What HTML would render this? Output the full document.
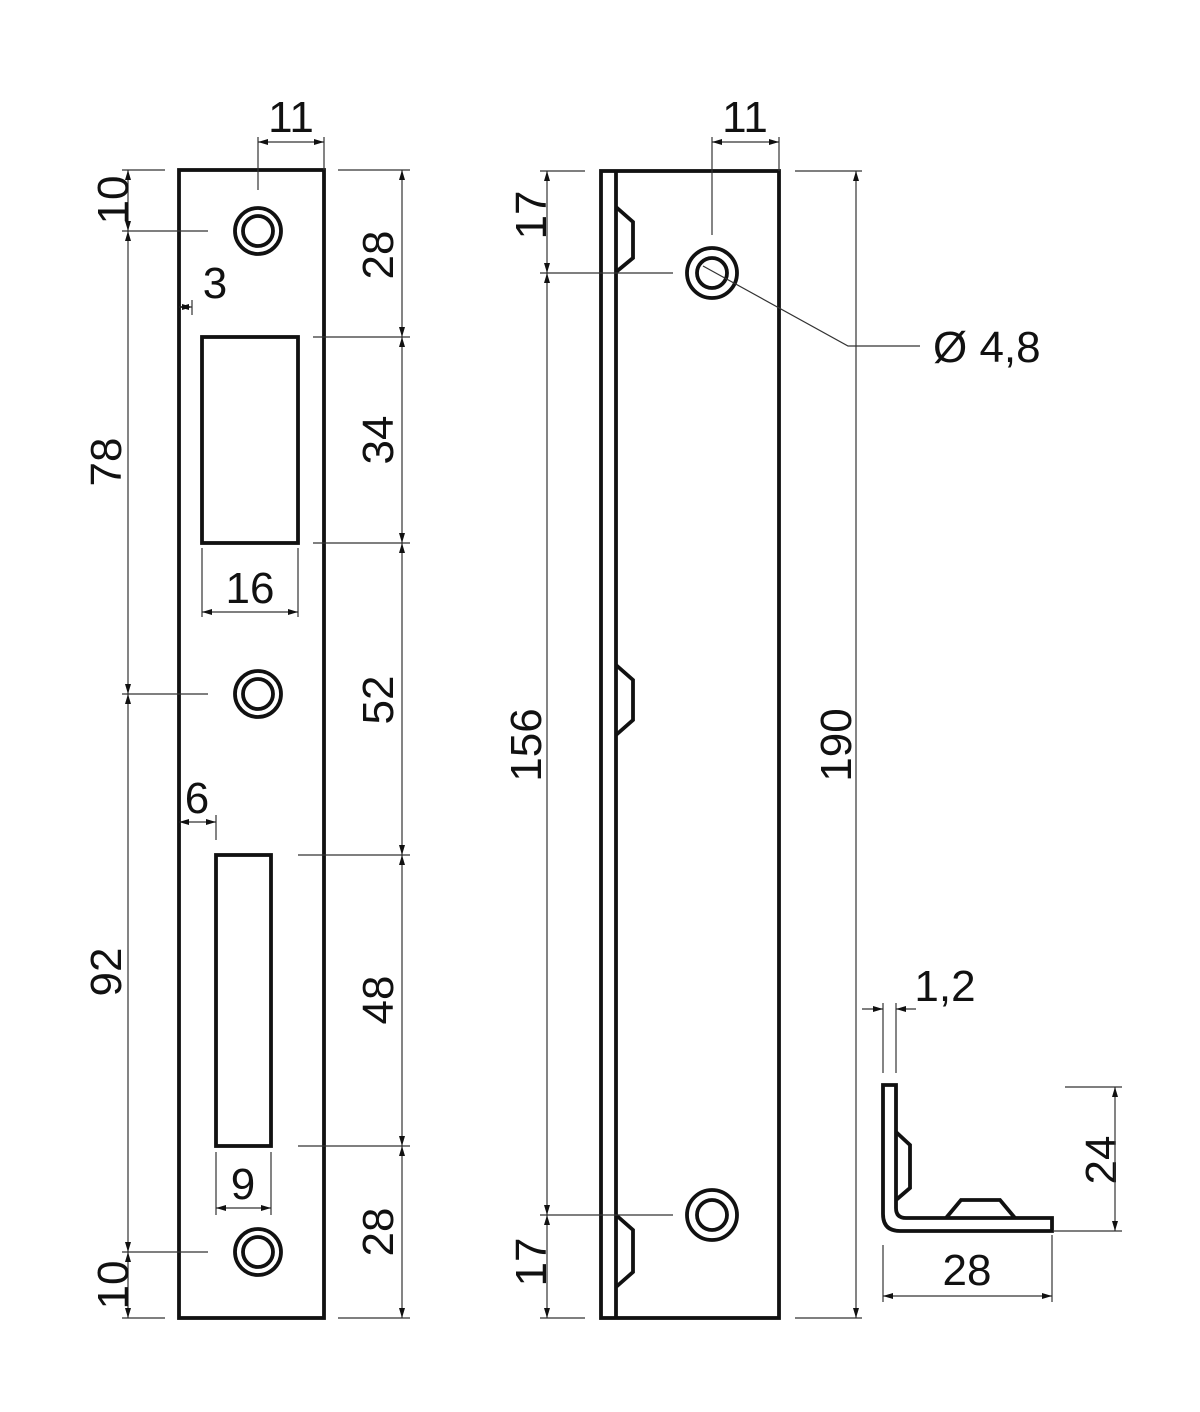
<!DOCTYPE html>
<html><head><meta charset="utf-8"><style>
html,body{margin:0;padding:0;background:#fff;}
svg{display:block}
text{font-family:"Liberation Sans",Arial,sans-serif;font-size:44px;fill:#111;}
.t{stroke:#111;stroke-width:3.8;fill:none}
.d{stroke:#333;stroke-width:1.2;fill:none}
</style></head><body>
<svg width="1200" height="1412" viewBox="0 0 1200 1412" xmlns="http://www.w3.org/2000/svg">
<defs>
<marker id="a" viewBox="0 0 10 6" refX="10" refY="3" markerWidth="10" markerHeight="6" orient="auto-start-reverse" markerUnits="userSpaceOnUse"><path d="M0,0 L10,3 L0,6 z" fill="#111"/></marker>
</defs>
<rect class="t" x="179" y="170" width="145" height="1148"/>
<rect class="t" x="202" y="337" width="96" height="206"/>
<rect class="t" x="216" y="855" width="55" height="291"/>
<g class="t">
<circle cx="258" cy="231" r="23"/><circle cx="258" cy="231" r="15"/>
<circle cx="258" cy="694" r="23"/><circle cx="258" cy="694" r="15"/>
<circle cx="258" cy="1252" r="23"/><circle cx="258" cy="1252" r="15"/>
</g>
<g class="d">
<line x1="122" y1="170" x2="165" y2="170"/>
<line x1="122" y1="231" x2="208" y2="231"/>
<line x1="122" y1="694" x2="208" y2="694"/>
<line x1="122" y1="1252" x2="208" y2="1252"/>
<line x1="122" y1="1318" x2="165" y2="1318"/>
<line x1="128" y1="170" x2="128" y2="231" marker-start="url(#a)" marker-end="url(#a)"/>
<line x1="128" y1="231" x2="128" y2="694" marker-start="url(#a)" marker-end="url(#a)"/>
<line x1="128" y1="694" x2="128" y2="1252" marker-start="url(#a)" marker-end="url(#a)"/>
<line x1="128" y1="1252" x2="128" y2="1318" marker-start="url(#a)" marker-end="url(#a)"/>
<line x1="338" y1="170" x2="410" y2="170"/>
<line x1="313" y1="337" x2="410" y2="337"/>
<line x1="313" y1="543" x2="410" y2="543"/>
<line x1="298" y1="855" x2="410" y2="855"/>
<line x1="298" y1="1146" x2="410" y2="1146"/>
<line x1="338" y1="1318" x2="410" y2="1318"/>
<line x1="402" y1="170" x2="402" y2="337" marker-start="url(#a)" marker-end="url(#a)"/>
<line x1="402" y1="337" x2="402" y2="543" marker-start="url(#a)" marker-end="url(#a)"/>
<line x1="402" y1="543" x2="402" y2="855" marker-start="url(#a)" marker-end="url(#a)"/>
<line x1="402" y1="855" x2="402" y2="1146" marker-start="url(#a)" marker-end="url(#a)"/>
<line x1="402" y1="1146" x2="402" y2="1318" marker-start="url(#a)" marker-end="url(#a)"/>
<line x1="258" y1="137" x2="258" y2="190"/>
<line x1="324" y1="137" x2="324" y2="170"/>
<line x1="258" y1="142" x2="324" y2="142" marker-start="url(#a)" marker-end="url(#a)"/>
<line x1="202" y1="548" x2="202" y2="617"/>
<line x1="298" y1="548" x2="298" y2="617"/>
<line x1="202" y1="612" x2="298" y2="612" marker-start="url(#a)" marker-end="url(#a)"/>
<line x1="192" y1="300" x2="192" y2="315"/>
<line x1="179" y1="307" x2="192" y2="307" marker-start="url(#a)" marker-end="url(#a)"/>
<line x1="216" y1="815" x2="216" y2="840"/>
<line x1="179" y1="822" x2="216" y2="822" marker-start="url(#a)" marker-end="url(#a)"/>
<line x1="216" y1="1152" x2="216" y2="1215"/>
<line x1="271" y1="1152" x2="271" y2="1215"/>
<line x1="216" y1="1208" x2="271" y2="1208" marker-start="url(#a)" marker-end="url(#a)"/>
</g>
<text x="291" y="132" text-anchor="middle">11</text>
<text x="215" y="298" text-anchor="middle">3</text>
<text x="250" y="603" text-anchor="middle">16</text>
<text x="197" y="813" text-anchor="middle">6</text>
<text x="243" y="1199" text-anchor="middle">9</text>
<g text-anchor="middle">
<text transform="translate(128,200) rotate(-90)">10</text>
<text transform="translate(121,462) rotate(-90)">78</text>
<text transform="translate(121,972) rotate(-90)">92</text>
<text transform="translate(128,1285) rotate(-90)">10</text>
<text transform="translate(393,255) rotate(-90)">28</text>
<text transform="translate(393,440) rotate(-90)">34</text>
<text transform="translate(393,700) rotate(-90)">52</text>
<text transform="translate(393,1000) rotate(-90)">48</text>
<text transform="translate(393,1232) rotate(-90)">28</text>
<text transform="translate(546,215) rotate(-90)">17</text>
<text transform="translate(541,745) rotate(-90)">156</text>
<text transform="translate(546,1262) rotate(-90)">17</text>
<text transform="translate(851,745) rotate(-90)">190</text>
<text transform="translate(1116,1160) rotate(-90)">24</text>
</g>
<rect class="t" x="601" y="171" width="178" height="1147"/>
<line class="t" x1="616" y1="171" x2="616" y2="1318"/>
<g class="t">
<polyline points="616,207 633,222 633,258 616,272"/>
<polyline points="616,665 633,680 633,720 616,735"/>
<polyline points="616,1215 633,1230 633,1272 616,1287"/>
<circle cx="712" cy="273" r="25"/><circle cx="712" cy="273" r="15"/>
<circle cx="712" cy="1215" r="25"/><circle cx="712" cy="1215" r="15"/>
</g>
<g class="d">
<line x1="540" y1="171" x2="585" y2="171"/>
<line x1="540" y1="273" x2="673" y2="273"/>
<line x1="540" y1="1215" x2="673" y2="1215"/>
<line x1="540" y1="1318" x2="585" y2="1318"/>
<line x1="547" y1="171" x2="547" y2="273" marker-start="url(#a)" marker-end="url(#a)"/>
<line x1="547" y1="273" x2="547" y2="1215" marker-start="url(#a)" marker-end="url(#a)"/>
<line x1="547" y1="1215" x2="547" y2="1318" marker-start="url(#a)" marker-end="url(#a)"/>
<line x1="795" y1="171" x2="862" y2="171"/>
<line x1="795" y1="1318" x2="862" y2="1318"/>
<line x1="856" y1="171" x2="856" y2="1318" marker-start="url(#a)" marker-end="url(#a)"/>
<line x1="712" y1="137" x2="712" y2="235"/>
<line x1="779" y1="137" x2="779" y2="171"/>
<line x1="712" y1="142" x2="779" y2="142" marker-start="url(#a)" marker-end="url(#a)"/>
<polyline points="703,266 848,346 920,346"/>
</g>
<text x="745" y="132" text-anchor="middle">11</text>
<text x="933" y="362">Ø 4,8</text>
<path class="t" d="M883,1085 L896,1085 L896,1208 Q896,1218 906,1218 L1052,1218 L1052,1231 L900,1231 Q883,1231 883,1214 Z"/>
<polyline class="t" points="896,1132 910,1145 910,1188 896,1200"/>
<polyline class="t" points="946,1218 961,1200 1000,1200 1015,1218"/>
<g class="d">
<line x1="883" y1="1003" x2="883" y2="1073"/>
<line x1="896" y1="1003" x2="896" y2="1073"/>
<line x1="862" y1="1009" x2="883" y2="1009" marker-end="url(#a)"/>
<line x1="916" y1="1009" x2="896" y2="1009" marker-end="url(#a)"/>
<line x1="1065" y1="1087" x2="1122" y2="1087"/>
<line x1="1053" y1="1231" x2="1122" y2="1231"/>
<line x1="1115" y1="1087" x2="1115" y2="1231" marker-start="url(#a)" marker-end="url(#a)"/>
<line x1="883" y1="1245" x2="883" y2="1302"/>
<line x1="1052" y1="1235" x2="1052" y2="1302"/>
<line x1="883" y1="1296" x2="1052" y2="1296" marker-start="url(#a)" marker-end="url(#a)"/>
</g>
<text x="945" y="1001" text-anchor="middle">1,2</text>
<text x="967" y="1285" text-anchor="middle">28</text>
</svg>
</body></html>
